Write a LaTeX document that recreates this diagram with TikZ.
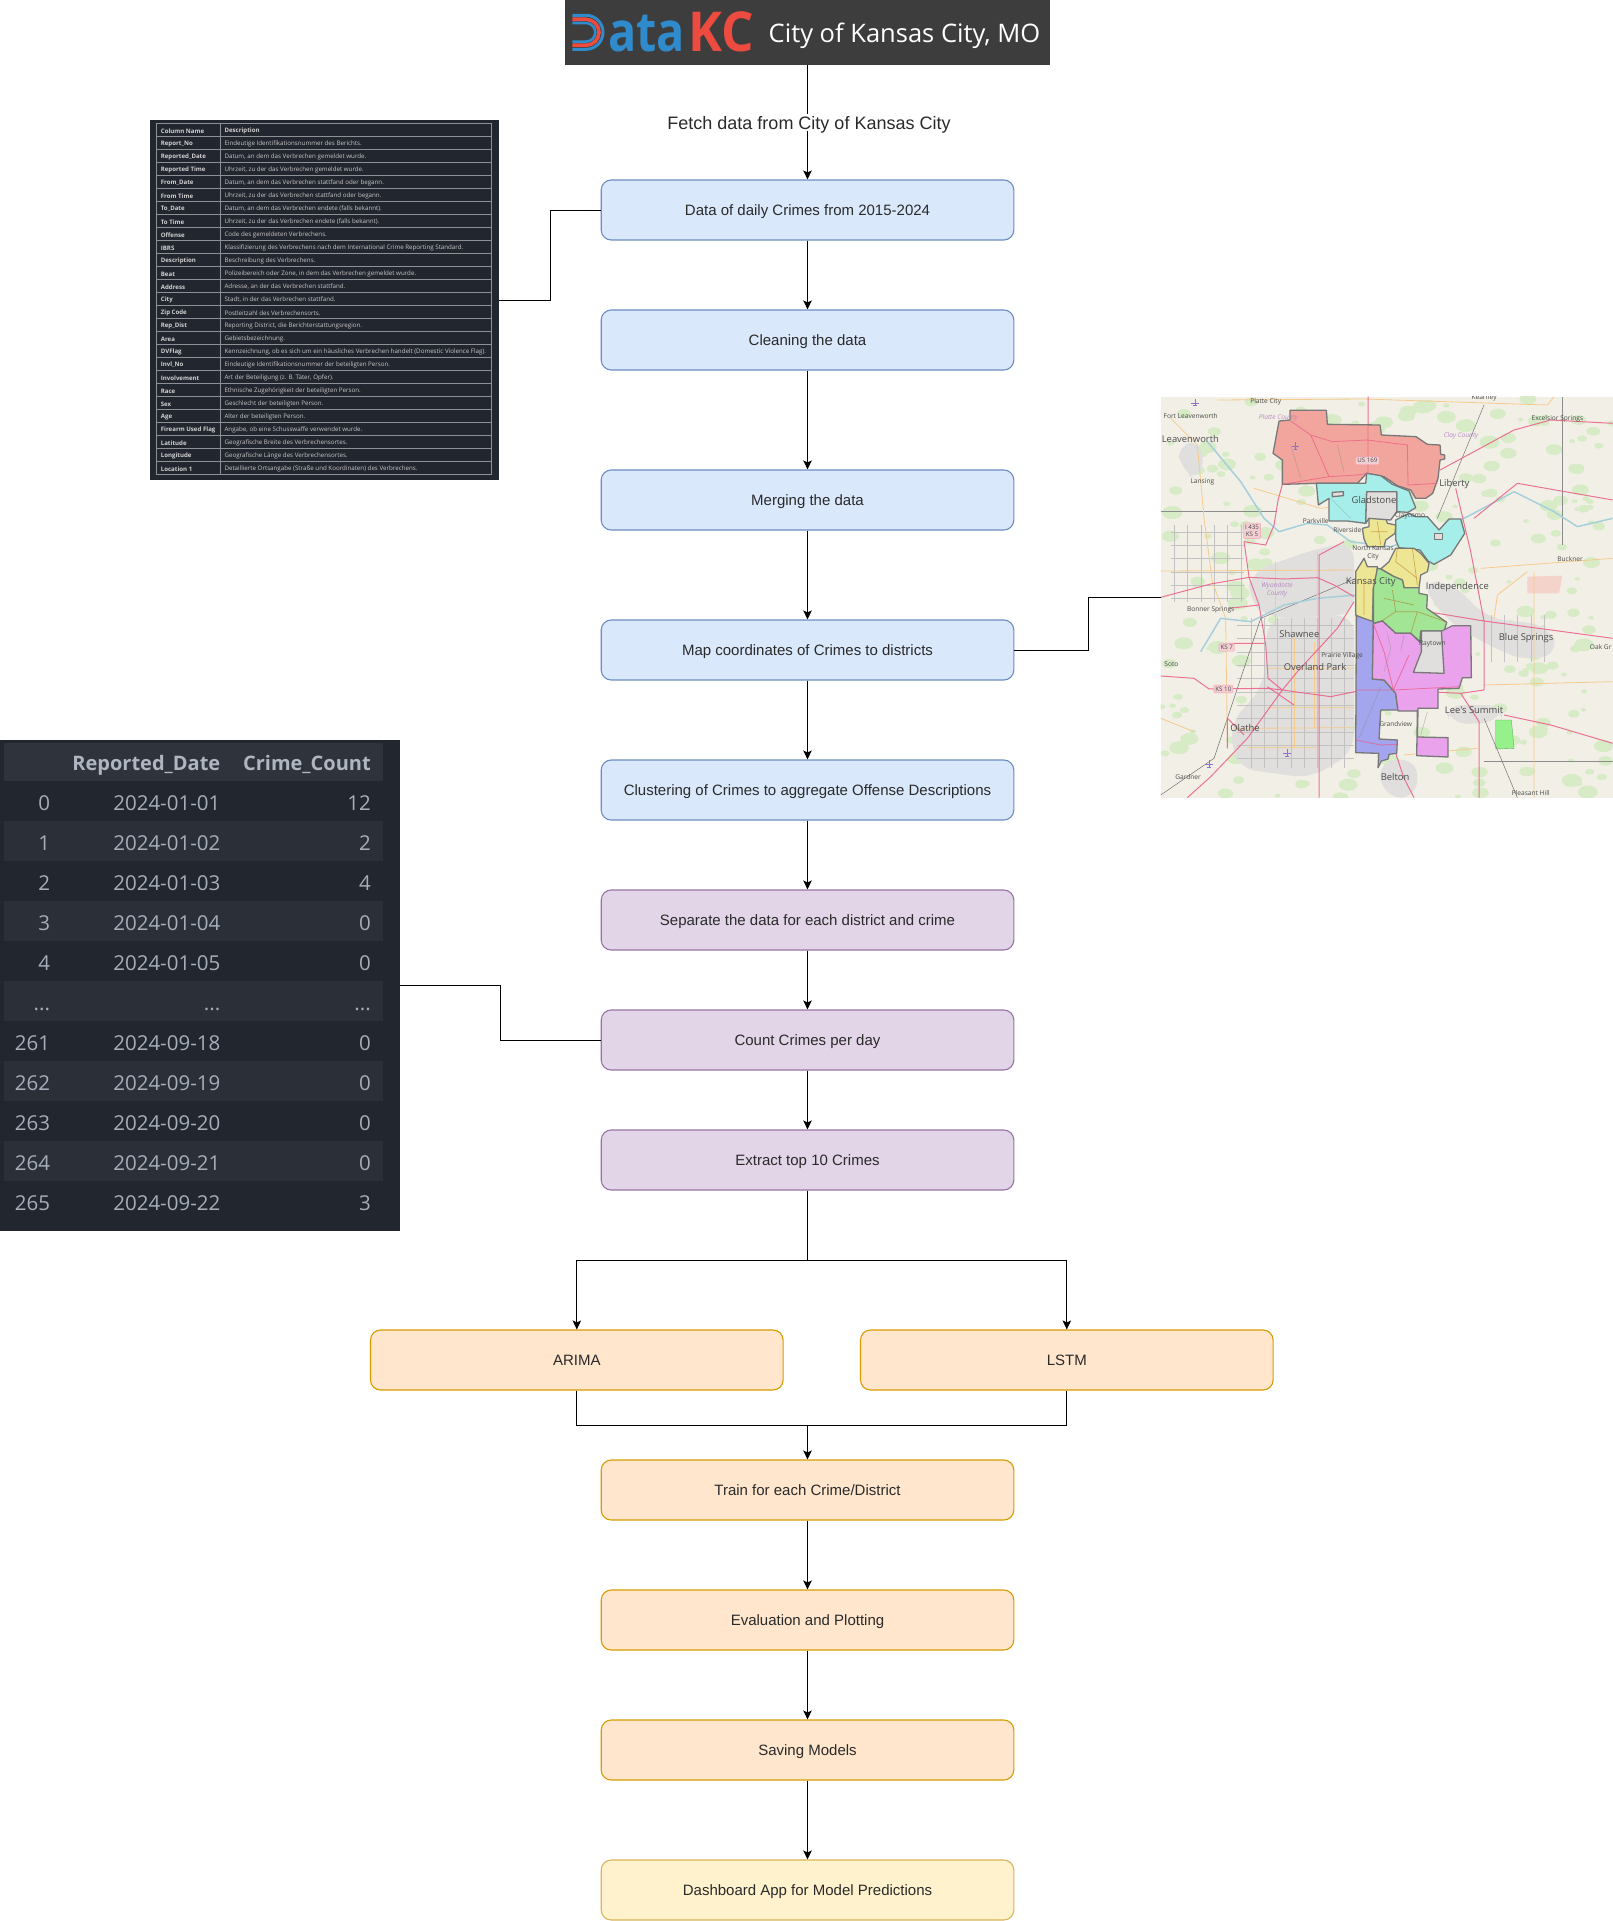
\documentclass[tikz,border=0pt]{standalone}
\usepackage{fontspec}
\usepackage{graphicx}
\usetikzlibrary{arrows.meta}
\setmainfont{Liberation Sans}
\newfontfamily\opensans{Open Sans}
\newcommand{\rowdots}{.{}.{}.}
\definecolor{blueFill}{HTML}{DAE8FC}
\definecolor{blueLine}{HTML}{6C8EBF}
\definecolor{purpleFill}{HTML}{E1D5E7}
\definecolor{purpleLine}{HTML}{9673A6}
\definecolor{orangeFill}{HTML}{FFE6CC}
\definecolor{orangeLine}{HTML}{D79B00}
\definecolor{yellowFill}{HTML}{FFF2CC}
\definecolor{yellowLine}{HTML}{D6B656}
\definecolor{boxText}{HTML}{2A2A2A}
\definecolor{panelDark}{HTML}{22262E}
\definecolor{panelBand}{HTML}{2B2F38}
\definecolor{panelHead}{HTML}{2F333C}
\definecolor{panelText}{HTML}{A6AEBA}
\definecolor{gridGrey}{HTML}{8D9095}
\definecolor{logoBlue}{HTML}{2F8BCC}
\definecolor{logoRed}{HTML}{EE4B40}
\definecolor{mapGround}{HTML}{F2F0E6}
\definecolor{mapGreen}{HTML}{D6EBC6}
\definecolor{mapTown}{HTML}{E0DFDD}
\definecolor{mapRoad}{HTML}{EC5C86}
\definecolor{mapOrange}{HTML}{F7C98A}
\definecolor{mapRiver}{HTML}{A6CFDC}
\definecolor{mapBorder}{HTML}{787878}
\definecolor{mapLabel}{HTML}{4A4A4A}
\definecolor{mapPurple}{HTML}{B689C4}
\definecolor{shieldFill}{HTML}{F3CFD3}
\definecolor{zoneRed}{HTML}{F2A59D}
\definecolor{zoneCyan}{HTML}{A6EEEA}
\definecolor{zoneYellow}{HTML}{EDE795}
\definecolor{zoneGreen}{HTML}{A2E594}
\definecolor{zoneBlue}{HTML}{A3A5EE}
\definecolor{zonePink}{HTML}{EAA2EC}
\tikzset{
  flowbox/.style={draw,rounded corners=10pt,line width=1.1pt,minimum width=412.6pt,minimum height=60pt,
    inner sep=0pt,text height=11.5pt,text depth=0pt,text=boxText,font=\fontsize{15}{18}\selectfont},
  bluebox/.style={flowbox,fill=blueFill,draw=blueLine},
  purplebox/.style={flowbox,fill=purpleFill,draw=purpleLine},
  orangebox/.style={flowbox,fill=orangeFill,draw=orangeLine},
  yellowbox/.style={flowbox,fill=yellowFill,draw=yellowLine},
  flowline/.style={line width=.95pt,black},
  flowarrow/.style={flowline,-{Stealth[length=9pt,width=8.5pt,inset=2pt]}},
  headcell/.style={anchor=west,inner sep=0pt,text=white!82!black,font=\opensans\bfseries\fontsize{6.1}{7}\selectfont},
  textcell/.style={anchor=west,inner sep=0pt,text=white!78!black,font=\opensans\fontsize{6.2}{7}\selectfont},
  countcell/.style={anchor=base east,inner sep=0pt,text=panelText,font=\opensans\fontsize{20.5}{24}\selectfont},
  counthead/.style={anchor=base east,inner sep=0pt,text=panelText!90!white,font=\opensans\bfseries\fontsize{20}{24}\selectfont},
  district/.style={draw=mapBorder,line width=1.3pt,line join=round},
  townhole/.style={district,fill=mapTown},
  smalltown/.style={inner sep=0pt,text=mapLabel,font=\opensans\fontsize{6.6}{8}\selectfont},
  bigtown/.style={inner sep=0pt,text=mapLabel,font=\opensans\fontsize{9.4}{11}\selectfont},
  county/.style={inner sep=0pt,text=mapPurple,font=\opensans\itshape\fontsize{6.6}{8}\selectfont},
  shield/.style={draw=mapRoad!60,fill=shieldFill,rounded corners=1pt,inner sep=1.6pt,align=center,
    text=mapLabel,font=\opensans\fontsize{6.2}{7.6}\selectfont},
  mainroad/.style={draw=mapRoad,line width=1pt,opacity=.85},
  sideroad/.style={draw=mapOrange,line width=.8pt},
  street/.style={draw=black!24,line width=.3pt},
  river/.style={draw=mapRiver,line width=1.5pt},
}
\begin{document}
\begin{tikzpicture}[x=1pt,y=-1pt]
  \useasboundingbox (0,0) rectangle (1613,1921);
  % banner
  \node[fill=black!76,minimum width=485pt,minimum height=65pt,inner sep=0pt] (banner) at (807.5,32.5) {};
  \draw[logoBlue,line width=3pt] (572.3,15.3) -- (586,15.3) arc[start angle=-90,end angle=90,radius=17] -- (572.3,49.3);
  \draw[logoRed,line width=3.6pt] (572.3,19.3) -- (586,19.3) arc[start angle=-90,end angle=90,radius=13] -- (572.3,45.3);
  \draw[logoBlue,line width=2.6pt] (572.3,23) -- (586,23) arc[start angle=-90,end angle=90,radius=9.3] -- (572.3,41.6);
  \node[anchor=base west,inner sep=0pt,text=logoBlue,font=\opensans\bfseries\fontsize{55}{60}\selectfont] (logoata) at (608,52) {\scalebox{.85}[1]{ata}};
  \node[anchor=base west,inner sep=0pt,text=logoRed,font=\opensans\bfseries\fontsize{55}{60}\selectfont] (logokc) at (688,52) {\scalebox{.93}[1]{KC}};
  \node[anchor=base west,inner sep=0pt,text=white,font=\opensans\fontsize{25.5}{30}\selectfont] (bannertext) at (768.5,43) {City of Kansas City, MO};
  % boxes
  \node[bluebox] (rawdata) at (807.5,210) {Data of daily Crimes from 2015-2024};
  \node[bluebox] (cleaning) at (807.5,340) {Cleaning the data};
  \node[bluebox] (merging) at (807.5,500) {Merging the data};
  \node[bluebox] (mapping) at (807.5,650) {Map coordinates of Crimes to districts};
  \node[bluebox] (clustering) at (807.5,790) {Clustering of Crimes to aggregate Offense Descriptions};
  \node[purplebox] (separate) at (807.5,920) {Separate the data for each district and crime};
  \node[purplebox] (counting) at (807.5,1040) {Count Crimes per day};
  \node[purplebox] (extract) at (807.5,1160) {Extract top 10 Crimes};
  \node[orangebox] (arima) at (576.8,1360) {ARIMA};
  \node[orangebox] (lstm) at (1066.8,1360) {LSTM};
  \node[orangebox] (train) at (807.5,1490) {Train for each Crime/District};
  \node[orangebox] (evaluation) at (807.5,1620) {Evaluation and Plotting};
  \node[orangebox] (saving) at (807.5,1750) {Saving Models};
  \node[yellowbox] (dashboard) at (807.5,1890) {Dashboard App for Model Predictions};
  \coordinate (split) at (807.5,1260);
  \coordinate (merge) at (807.5,1425);
  % table of the columns
  \node[fill=panelDark,minimum width=349pt,minimum height=360pt,inner sep=0pt] (columntable) at (324.4,300) {};
  \begin{scope}[shift={(130,100)},x=.33333pt,y=-.33333pt]
    \draw[gridGrey,line width=.7pt] (79,70) rectangle (1085,1124) (271,70) -- (271,1124);
    \foreach \r in {1,...,26} \draw[gridGrey,line width=.7pt] (79,70+39*\r) -- (1085,70+39*\r);
    \foreach \r/\colname/\coltext in {
      1/Report\_No/Eindeutige Identifikationsnummer des Berichts.,
      2/Reported\_Date/Datum{,} an dem das Verbrechen gemeldet wurde.,
      3/Reported Time/Uhrzeit{,} zu der das Verbrechen gemeldet wurde.,
      4/From\_Date/Datum{,} an dem das Verbrechen stattfand oder begann.,
      5/From Time/Uhrzeit{,} zu der das Verbrechen stattfand oder begann.,
      6/To\_Date/Datum{,} an dem das Verbrechen endete (falls bekannt).,
      7/To Time/Uhrzeit{,} zu der das Verbrechen endete (falls bekannt).,
      8/Offense/Code des gemeldeten Verbrechens.,
      9/IBRS/Klassifizierung des Verbrechens nach dem International Crime Reporting Standard.,
      10/Description/Beschreibung des Verbrechens.,
      11/Beat/Polizeibereich oder Zone{,} in dem das Verbrechen gemeldet wurde.,
      12/Address/Adresse{,} an der das Verbrechen stattfand.,
      13/City/Stadt{,} in der das Verbrechen stattfand.,
      14/Zip Code/Postleitzahl des Verbrechensorts.,
      15/Rep\_Dist/Reporting District{,} die Berichterstattungsregion.,
      16/Area/Gebietsbezeichnung.,
      17/DVFlag/Kennzeichnung{,} ob es sich um ein häusliches Verbrechen handelt (Domestic Violence Flag).,
      18/Invl\_No/Eindeutige Identifikationsnummer der beteiligten Person.,
      19/Involvement/Art der Beteiligung (z. B. Täter{,} Opfer).,
      20/Race/Ethnische Zugehörigkeit der beteiligten Person.,
      21/Sex/Geschlecht der beteiligten Person.,
      22/Age/Alter der beteiligten Person.,
      23/Firearm Used Flag/Angabe{,} ob eine Schusswaffe verwendet wurde.,
      24/Latitude/Geografische Breite des Verbrechensortes.,
      25/Longitude/Geografische Länge des Verbrechensortes.,
      26/Location 1/Detaillierte Ortsangabe (Straße und Koordinaten) des Verbrechens.}{
      \node[headcell] (colname\r) at (92,93+39*\r) {\colname};
      \node[textcell] (coltext\r) at (283,93+39*\r) {\coltext};
    }
    \node[headcell] (colnamehead) at (92,93) {Column Name};
    \node[headcell] (coltexthead) at (283,93) {Description};
  \end{scope}
  % table of the counts
  \node[fill=panelDark,minimum width=399.5pt,minimum height=491pt,inner sep=0pt] (counttable) at (199.75,985.5) {};
  \fill[panelHead] (4,742.7) rectangle (383,780.7);
  \foreach \r in {1,3,5,7,9} \fill[panelBand] (4,781+40*\r) rectangle (383,821+40*\r);
  \node[counthead] (headdate) at (220.5,770.5) {Reported\_Date};
  \node[counthead] (headcount) at (371,770.5) {Crime\_Count};
  \foreach \r/\rowid/\rowdate/\rowcount in {0/0/2024-01-01/12,1/1/2024-01-02/2,2/2/2024-01-03/4,3/3/2024-01-04/0,
    4/4/2024-01-05/0,5/\rowdots/\rowdots/\rowdots,6/261/2024-09-18/0,7/262/2024-09-19/0,8/263/2024-09-20/0,9/264/2024-09-21/0,10/265/2024-09-22/3}{
    \node[countcell] (rowid\r) at (50.2,810+40*\r) {\rowid};
    \node[countcell] (rowdate\r) at (220.5,810+40*\r) {\rowdate};
    \node[countcell] (rowcount\r) at (371,810+40*\r) {\rowcount};
  }
  % map
  \node[fill=mapGround,minimum width=452pt,minimum height=401pt,inner sep=0pt] (citymap) at (1386.7,597) {};
  \begin{scope}[shift={(1150.7,385)},x=.33333pt,y=-.33333pt]
    \clip (30,35) rectangle (1386,1238);
    % green and built up land
    \pgfmathsetseed{17}
    \foreach \g in {1,...,260}{
      \pgfmathsetmacro{\gx}{30+1356*rnd}
      \pgfmathsetmacro{\gy}{35+1203*rnd}
      \pgfmathsetmacro{\gr}{7+24*rnd}
      \fill[mapGreen] (\gx,\gy) ellipse[x radius=\gr,y radius=.65*\gr];
    }
    \begin{scope}[rounded corners=18pt]
    \fill[mapTown] (350,700) -- (610,690) -- (610,1100) -- (480,1180) -- (260,1150) -- (235,1020) -- (340,900) -- cycle;
    \fill[mapTown] (300,560) -- (500,490) -- (610,470) -- (610,690) -- (350,700) -- (290,640) -- cycle;
    \fill[mapTown] (810,590) -- (900,590) -- (1010,700) -- (1190,720) -- (1230,800) -- (1130,830) -- (1010,780) -- (880,700) -- cycle;
    \fill[mapTown] (880,960) -- (1060,960) -- (1050,1010) -- (900,1020) -- cycle;
    \fill[mapTown] (680,1130) -- (800,1120) -- (800,1238) -- (700,1238) -- cycle;
    \fill[mapTown] (80,170) -- (160,170) -- (150,290) -- (90,260) -- cycle;
    \end{scope}
    \fill[red!12!mapGround] (1130,575) -- (1235,572) -- (1225,625) -- (1130,625) -- cycle;
    \filldraw[fill=green!30!mapGreen,draw=green!45!black!60] (1035,1005) -- (1082,1005) -- (1090,1090) -- (1035,1092) -- cycle;
    % streets
    \foreach \sx in {300,340,380,420,460,500,540,580} \draw[street] (\sx,700) -- (\sx,1150);
    \foreach \sy in {720,760,800,840,880,920,960,1000,1040,1080,1120} \draw[street] (260,\sy) -- (610,\sy);
    \foreach \sx in {70,110,150,190,230,270} \draw[street] (\sx,420) -- (\sx,650);
    \foreach \sy in {440,480,520,560,600,640} \draw[street] (60,\sy) -- (280,\sy);
    \foreach \sx in {1020,1060,1100,1140,1180} \draw[street] (\sx,690) -- (\sx,830);
    \draw[black!45,line width=.5pt] (1236,35) -- (1236,480) (1000,1130) -- (1386,1130) (30,380) -- (380,380);
    \draw[black!55,line width=.5pt] (30,1230) -- (190,1120) -- (330,700) -- (640,570) (860,400) -- (1000,60) (1000,1000) -- (1100,1238);
    % rivers
    \draw[river] (170,170) -- (270,290) -- (340,400) -- (385,440) -- (470,415) -- (530,420) -- (600,470) -- (720,485) -- (850,440)
      -- (950,395) -- (1090,320) -- (1210,380) -- (1280,425) -- (1386,400);
    \draw[river] (615,630) -- (500,640) -- (400,660) -- (300,710) -- (210,700) -- (150,800);
    % minor roads
    \draw[sideroad] (430,760) -- (430,1090) (490,770) -- (490,1030) (375,530) -- (375,720) (500,500) -- (500,690);
    \draw[sideroad] (30,558) -- (610,555) (350,850) -- (610,850) (350,968) -- (610,968) (250,1030) -- (610,1028) (290,1088) -- (500,1088);
    \draw[sideroad] (200,45) -- (640,42) -- (1190,60) -- (1210,35) (310,310) -- (510,370) -- (600,360);
    \draw[sideroad] (1150,560) -- (1150,1238) (1030,700) -- (1040,630) -- (1130,560) (990,550) -- (1386,520);
    \draw[sideroad] (60,100) -- (140,180) -- (160,400) -- (185,590) -- (225,700) -- (230,1090);
    \draw[sideroad] (30,1000) -- (130,1040) (1000,900) -- (1386,890) (760,1110) -- (980,1090);
    % major roads
    \draw[mainroad] (30,637) -- (180,597) -- (295,577) -- (400,582) -- (500,578) -- (550,600) -- (610,635);
    \draw[mainroad] (830,680) -- (1000,708) -- (1386,760);
    \draw[mainroad] (280,470) -- (295,577) -- (325,660) -- (345,780) -- (352,880) -- (395,915);
    \draw[mainroad] (395,298) -- (382,345) -- (370,420) -- (345,480) -- (280,470);
    \draw[mainroad] (30,873) -- (130,880) -- (175,912) -- (350,910) -- (395,915) -- (540,935) -- (612,920) -- (730,915) -- (930,925) -- (1000,915);
    \draw[mainroad] (110,1238) -- (180,1175) -- (290,1060) -- (395,915) -- (440,860) -- (560,730) -- (610,650);
    \draw[mainroad] (728,915) -- (700,800) -- (668,716) (728,915) -- (775,810) -- (790,740);
    \draw[mainroad] (930,925) -- (985,1010) -- (985,1238) (1000,915) -- (1000,708) -- (960,500) -- (915,310);
    \draw[mainroad] (1060,990) -- (1200,1020) -- (1386,1075) (735,1105) -- (760,1180) -- (790,1238);
    \draw[mainroad] (505,705) -- (505,510) -- (580,470) (325,660) -- (235,670) (505,705) -- (505,1238);
    \draw[mainroad] (868,255) -- (1090,135) -- (1200,105) -- (1386,115) (1386,345) -- (1100,295) -- (970,400);
    \draw[mainroad] (652,35) -- (652,265) (230,1090) -- (230,1000) -- (280,1050);
    \draw[mainroad] (340,775) -- (230,775) (430,960) -- (350,905);
    % districts
    \filldraw[district,fill=zoneRed] (418,76) -- (527,76) -- (530,118) -- (688,120) -- (692,150) -- (796,155) -- (830,178)
      -- (868,180) -- (870,208) -- (882,210) -- (882,222) -- (868,225) -- (862,280) -- (846,325) -- (825,340) -- (795,340) -- (780,315)
      -- (740,302) -- (700,275) -- (648,265) -- (620,295) -- (500,295) -- (395,298) -- (395,225) -- (367,205) -- (385,108) -- (418,105) -- cycle;
    \filldraw[district,fill=zoneCyan] (497,295) -- (645,295) -- (648,265) -- (690,272) -- (725,298) -- (775,318) -- (795,368) -- (772,382)
      -- (738,380) -- (738,320) -- (648,320) -- (645,415) -- (590,408) -- (535,408) -- (535,340) -- (503,360) -- cycle;
    \filldraw[townhole] (545,322) -- (578,320) -- (578,332) -- (545,335) -- cycle;
    \filldraw[district,fill=zoneCyan] (735,405) -- (775,385) -- (795,395) -- (830,395) -- (865,435) -- (895,402) -- (930,402) -- (942,445)
      -- (900,510) -- (850,538) -- (832,528) -- (808,495) -- (745,488) -- (735,465) -- cycle;
    \filldraw[townhole] (852,445) -- (875,445) -- (875,463) -- (852,463) -- cycle;
    \filldraw[district,fill=zoneYellow] (655,400) -- (705,398) -- (710,415) -- (735,420) -- (733,445) -- (705,465) -- (700,485) -- (650,485)
      -- (640,462) -- (635,430) -- (655,425) -- cycle;
    \filldraw[district,fill=zoneYellow] (735,490) -- (790,490) -- (810,505) -- (835,535) -- (830,560) -- (810,570) -- (805,608) -- (760,608)
      -- (755,585) -- (730,575) -- (690,552) -- (715,530) -- cycle;
    \filldraw[district,fill=zoneYellow] (640,520) -- (650,545) -- (680,545) -- (680,590) -- (668,610) -- (665,715) -- (615,690) -- (615,560) -- cycle;
    \filldraw[district,fill=zoneGreen] (680,550) -- (690,552) -- (730,575) -- (755,585) -- (760,608) -- (805,608) -- (805,625) -- (830,630)
      -- (828,670) -- (888,712) -- (880,740) -- (810,740) -- (808,770) -- (780,745) -- (735,745) -- (695,708) -- (668,715) -- (668,610) -- cycle;
    \filldraw[district,fill=zoneBlue] (617,692) -- (668,710) -- (665,882) -- (700,885) -- (735,925) -- (742,975) -- (690,975) -- (685,1062)
      -- (740,1065) -- (738,1105) -- (715,1108) -- (712,1122) -- (692,1128) -- (682,1148) -- (684,1105) -- (615,1103) -- cycle;
    \filldraw[district,fill=zonePink] (668,716) -- (695,708) -- (735,745) -- (780,745) -- (808,772) -- (810,738) -- (873,738) -- (905,722)
      -- (960,722) -- (962,878) -- (935,878) -- (925,910) -- (862,912) -- (862,970) -- (802,970) -- (800,1056) -- (892,1058) -- (892,1116)
      -- (798,1112) -- (800,978) -- (742,978) -- (735,925) -- (700,885) -- (665,882) -- cycle;
    \filldraw[townhole] (812,738) -- (872,738) -- (880,865) -- (788,862) -- (812,800) -- cycle;
    \filldraw[townhole] (648,320) -- (738,320) -- (738,380) -- (720,405) -- (655,400) -- (645,415) -- cycle;
    % roads seen through the districts
    \draw[mapRoad,opacity=.75,line width=.8pt] (668,716) -- (700,800) -- (728,915) -- (775,810) (615,915) -- (730,915) -- (925,905)
      (395,298) -- (535,275) -- (480,150) -- (420,108) (535,275) -- (620,270) -- (650,265) (480,150) -- (545,170) -- (650,165) -- (770,180) -- (772,300) -- (860,295)
      (652,120) -- (652,265) (615,1065) -- (690,1080) -- (740,1078);
    \draw[orange!70!black,opacity=.45,line width=.7pt] (725,615) -- (735,680) -- (800,680) -- (885,710) (800,680) -- (780,745) (700,640) -- (790,660) (735,680) -- (690,710)
      (740,490) -- (735,530) -- (800,580) (785,490) -- (800,600) (660,440) -- (710,440) (680,410) -- (690,480) (640,590) -- (640,690);
    \draw[black!45,opacity=.55,line width=.5pt] (710,745) -- (720,790) -- (700,860) (760,750) -- (750,800) (690,905) -- (650,1000) -- (625,1060) (830,980) -- (810,1050)
      (540,340) -- (600,400) (560,180) -- (580,260) (420,180) -- (450,280);
    % planes
    \foreach \px/\py [count=\c] in {133/52,435/182,409/1103,175/1137}{
      \draw[mapPurple!80!blue,line width=1pt] (\px,\py-11) -- (\px,\py+11) (\px-11,\py+2) -- (\px+11,\py+2) (\px-5,\py+10) -- (\px+5,\py+10);
    }
    % labels
    \foreach \tx/\ty/\tname [count=\c] in {345/50/Platte City,120/93/Fort Leavenworth,1000/38/Kearney,1220/101/Excelsior Springs,155/290/Lansing,
      778/393/Claycomo,495/409/Parkville,590/435/Riverside,667/490/North Kansas,667/517/City,1258/523/Buckner,180/674/Bonner Springs,845/776/Raytown,
      1350/785/Oak Gr,574/812/Prairie Village,62/836/Soto,735/1017/Grandview,112/1176/Gardner,1140/1225/Pleasant Hill}
      \node[smalltown] (minor\c) at (\tx,\ty) {\tname};
    \foreach \tx/\ty/\tname [count=\c] in {119/162/Leavenworth,911/296/Liberty,670/346/Gladstone,660/591/Kansas City,920/606/Independence,446/748/Shawnee,
      1126/760/Blue Springs,493/846/Overland Park,970/976/Lee's Summit,283/1029/Olathe,733/1176/Belton}
      \node[bigtown] (major\c) at (\tx,\ty) {\tname};
    \node[county] (plattecounty) at (383,97) {Platte County};
    \node[county] (claycounty) at (931,152) {Clay County};
    \node[county,align=center] (wyandotte) at (379,615) {Wyandotte\\County};
    \node[shield] (us169) at (650,227) {US 169};
    \node[shield] (i435) at (304,437) {I 435\\KS 5};
    \node[shield] (ks7) at (228,787) {KS 7};
    \node[shield] (ks10) at (218,912) {KS 10};
  \end{scope}
  % connectors
  \draw[flowarrow] (banner) -- node[fill=white,inner sep=1.5pt,xshift=1.5pt,text height=13.6pt,text depth=0pt,text=boxText,font=\fontsize{18}{21}\selectfont] (fetchlabel) {Fetch data from City of Kansas City} (rawdata);
  \foreach \from/\to in {rawdata/cleaning,cleaning/merging,merging/mapping,mapping/clustering,clustering/separate,separate/counting,counting/extract,
    train/evaluation,evaluation/saving,saving/dashboard}
    \draw[flowarrow] (\from) -- (\to);
  \draw[flowline] (extract) -- (split);
  \draw[flowarrow] (split) -| (arima);
  \draw[flowarrow] (split) -| (lstm);
  \draw[flowline] (arima) |- (merge);
  \draw[flowline] (lstm) |- (merge);
  \draw[flowarrow] (merge) -- (train);
  \draw[flowline] (rawdata.west) -- ++(-50,0) |- (columntable.east);
  \draw[flowline] (mapping.east) -- ++(74,0) |- (citymap.west);
  \draw[flowline] (counting.west) -- ++(-100,0) |- (counttable.east);
\end{tikzpicture}
\end{document}
